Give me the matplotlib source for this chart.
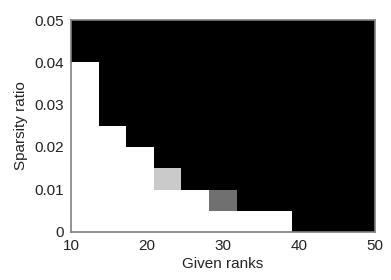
import numpy as np
import matplotlib.pyplot as plt

plt.rcParams['font.family'] = ['Liberation Sans', 'DejaVu Sans']

# recovery rate, rows = sparsity ratio (bottom to top), cols = given rank
ranks = [10, 50]
sparsity = [0, 0.05]
col_heights = [8, 5, 4, 2, 2, 1, 1, 1, 0, 0, 0]   # white cells per column
partial = {(2, 3): 0.79, (1, 5): 0.44}            # (row, col): grey level

grid = np.zeros((10, len(col_heights)))
for c, h in enumerate(col_heights):
    grid[:h, c] = 1.0
for (r, c), v in partial.items():
    grid[r, c] = v

fig = plt.figure(figsize=(3.91, 2.80), dpi=100)
ax = fig.add_axes([0.182, 0.173, 0.777, 0.755])
ax.imshow(grid, cmap='gray', vmin=0, vmax=1, origin='lower', aspect='auto',
          interpolation='nearest',
          extent=[ranks[0], ranks[1], sparsity[0], sparsity[1]])
ax.set_xlim(ranks)
ax.set_ylim(sparsity)
ax.set_xticks([10, 20, 30, 40, 50])
ax.set_yticks([0, 0.01, 0.02, 0.03, 0.04, 0.05])
ax.set_yticklabels(['0', '0.01', '0.02', '0.03', '0.04', '0.05'])
ax.tick_params(length=0, labelsize=11, pad=5, labelcolor='#222222')
for s in ax.spines.values():
    s.set_color('#808080')
    s.set_linewidth(1.2)
ax.set_xlabel('Given ranks', fontsize=11, labelpad=3, color='#222222')
ax.set_ylabel('Sparsity ratio', fontsize=11, labelpad=5, color='#222222')

fig.savefig('out.png', dpi=100)
